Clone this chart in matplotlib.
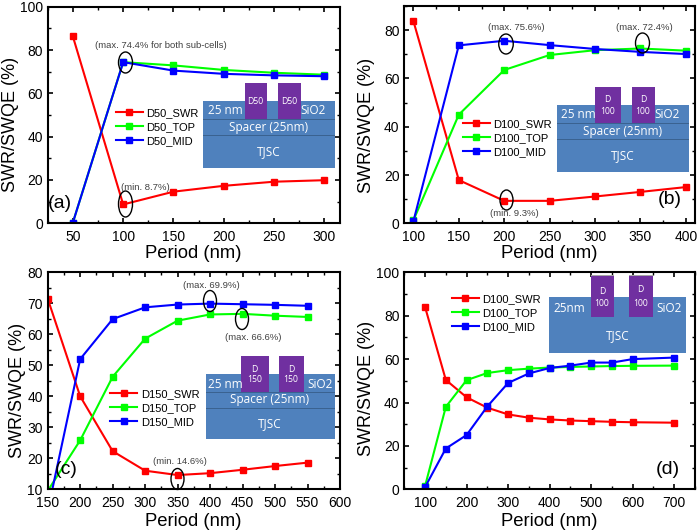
import matplotlib
matplotlib.use('Agg')
import matplotlib.pyplot as plt
from matplotlib.patches import Rectangle, Ellipse
from matplotlib.ticker import MultipleLocator

plt.rcParams['font.family'] = ['Liberation Sans', 'DejaVu Sans']

W, H = 700, 531
RED, GREEN, BLUE = '#ff0000', '#00ff00', '#0000ff'
CELL = '#4f81bd'
PILLAR = '#7030a0'

# panel a
period_a = [50, 100, 150, 200, 250, 300]
swr_a = [86.3, 8.7, 14.6, 17.3, 19.2, 19.9]
top_a = [0.3, 74.4, 72.9, 70.8, 69.5, 68.6]
mid_a = [0.3, 74.4, 70.5, 69.0, 68.3, 67.9]

# panel b
period_b = [100, 150, 200, 250, 300, 350, 400]
swr_b = [83.8, 17.9, 9.3, 9.3, 11.1, 13.0, 15.0]
top_b = [1.2, 45.0, 63.5, 69.7, 71.7, 72.4, 71.5]
mid_b = [0.8, 73.7, 75.6, 73.8, 72.2, 71.0, 70.1]

# panel c
period_c = [150, 200, 250, 300, 350, 400, 450, 500, 550]
swr_c = [71.5, 40.0, 22.3, 16.0, 14.6, 15.2, 16.3, 17.5, 18.6]
top_c = [9.5, 25.8, 46.3, 58.6, 64.4, 66.4, 66.6, 66.0, 65.6]
mid_c = [3.0, 52.0, 64.9, 68.7, 69.6, 69.9, 69.7, 69.5, 69.2]

# panel d
period_d = [100, 150, 200, 250, 300, 350, 400, 450, 500, 550, 600, 700]
swr_d = [84.0, 50.4, 42.4, 37.6, 34.5, 33.0, 32.2, 31.7, 31.4, 31.1, 30.9, 30.7]
top_d = [1.5, 38.0, 50.3, 53.6, 54.9, 55.6, 56.1, 56.4, 56.6, 56.8, 56.9, 57.0]
mid_d = [1.0, 18.8, 25.0, 38.2, 49.0, 53.4, 55.9, 57.0, 58.4, 58.4, 60.0, 60.7]

fig = plt.figure(figsize=(7, 5.31), dpi=100)


# everything decorative is placed in pixels of the 700x531 image
def fx(x):
    return x / W


def fy(y):
    return 1 - y / H


def new_axes(left, top, right, bottom):
    return fig.add_axes([fx(left), fy(bottom), (right - left) / W, (bottom - top) / H])


def box(x0, y0, x1, y1, color, zorder=5, ec='none'):
    fig.add_artist(Rectangle((fx(x0), fy(y1)), (x1 - x0) / W, (y1 - y0) / H,
                             transform=fig.transFigure, fc=color, ec=ec, lw=0.6, zorder=zorder))


def label(x, y, s, size=8.0, color='white', family='Open Sans', zorder=7, ha='center'):
    fig.text(fx(x), fy(y), s, fontsize=size, color=color, ha=ha, va='center',
             family=[family, 'DejaVu Sans'], zorder=zorder)


def note(x, y, s):
    label(x, y, s, size=6.8, color='#404040', family='Liberation Sans')


def ring(x, y, w, h):
    fig.add_artist(Ellipse((fx(x), fy(y)), w / W, h / H, transform=fig.transFigure,
                           fc='none', ec='black', lw=1.0, zorder=8))


def panel(ax, period, swr, top, mid, names, xlim, ylim, xstep, ystep, leg_xy, xlab_xy, ylab_xy):
    handles = []
    for vals, col, name in [(swr, RED, names[0]), (top, GREEN, names[1]), (mid, BLUE, names[2])]:
        line, = ax.plot(period, vals, color=col, lw=1.5, marker='s', ms=4, label=name)
        handles.append(line)
    ax.set_xlim(*xlim)
    ax.set_ylim(*ylim)
    ax.xaxis.set_major_locator(MultipleLocator(xstep))
    ax.xaxis.set_minor_locator(MultipleLocator(xstep / 2))
    ax.yaxis.set_major_locator(MultipleLocator(ystep))
    ax.yaxis.set_minor_locator(MultipleLocator(ystep / 2))
    ax.tick_params(which='major', direction='in', length=3.5, width=1.2, labelsize=10,
                   top=True, right=True)
    ax.tick_params(which='minor', direction='in', length=2.5, width=1.0, top=True, right=True)
    ax.tick_params(axis='x', which='major', pad=5)
    for sp in ax.spines.values():
        sp.set_linewidth(1.5)
    ax.set_xlabel('Period (nm)', fontsize=13.3, va='center')
    ax.set_ylabel('SWR/SWQE (%)', fontsize=13, va='center')
    ax.xaxis.set_label_coords(fx(xlab_xy[0]), fy(xlab_xy[1]), transform=fig.transFigure)
    ax.yaxis.set_label_coords(fx(ylab_xy[0]), fy(ylab_xy[1]), transform=fig.transFigure)
    ax.legend(handles=handles, loc='center', frameon=False, fontsize=8, borderpad=0, borderaxespad=0,
              bbox_to_anchor=(fx(leg_xy[0]), fy(leg_xy[1])), bbox_transform=fig.transFigure,
              labelspacing=0.35, handlelength=2.4, handletextpad=0.35)


# (a)
ax = new_axes(47.7, 6.7, 339.5, 223.3)
panel(ax, period_a, swr_a, top_a, mid_a, ['D50_SWR', 'D50_TOP', 'D50_MID'],
      (25, 315), (0, 100), 50, 20, (157.5, 127), (193, 254), (11, 124))
box(203, 101, 335, 168, CELL)
box(203, 119, 335, 119.6, '#3a6290', 6)
box(203, 135, 335, 135.6, '#3a6290', 6)
box(244.5, 83, 267, 119, PILLAR, 6)
box(278, 83, 301, 119, PILLAR, 6)
label(225, 111, '25 nm', 8.5)
label(313, 111, 'SiO2', 8.5)
label(269, 128, 'Spacer (25nm)', 8.5)
label(269, 152, 'TJSC', 8.5)
label(255.5, 102, 'D50', 6.2)
label(289.5, 102, 'D50', 6.2)
note(161, 46, '(max. 74.4% for both sub-cells)')
note(145, 187, '(min. 8.7%)')
ring(125.5, 62.5, 14, 21)
ring(125.5, 204, 14, 26)
label(60, 204, '(a)', 14, 'black', 'Liberation Sans')

# (b)
ax = new_axes(404.3, 6, 695, 223.3)
panel(ax, period_b, swr_b, top_b, mid_b, ['D100_SWR', 'D100_TOP', 'D100_MID'],
      (90, 410), (0, 90), 50, 20, (507.5, 138), (549, 254), (366, 125))
box(557, 105, 689, 172, CELL)
box(557, 123, 689, 123.6, '#3a6290', 6)
box(557, 139, 689, 139.6, '#3a6290', 6)
box(595, 87, 621, 123, PILLAR, 6)
box(631.5, 87, 655, 123, PILLAR, 6)
label(578, 115, '25 nm', 8.5)
label(667, 115, 'SiO2', 8.5)
label(623, 132, 'Spacer (25nm)', 8.5)
label(623, 156, 'TJSC', 8.5)
label(607.5, 100, 'D', 6.2)
label(607.5, 111, '100', 6.2)
label(643, 100, 'D', 6.2)
label(643, 111, '100', 6.2)
note(516, 27, '(max. 75.6%)')
note(644.5, 27, '(max. 72.4%)')
note(514, 214, '(min. 9.3%)')
ring(506, 44, 14.5, 20)
ring(642.5, 43, 14, 20)
ring(506.5, 200, 13, 20)
label(670, 199, '(b)', 14, 'black', 'Liberation Sans')

# (c)
ax = new_axes(47.7, 272.3, 340, 489.3)
panel(ax, period_c, swr_c, top_c, mid_c, ['D150_SWR', 'D150_TOP', 'D150_MID'],
      (150, 600), (10, 80), 50, 10, (155, 408), (193, 522), (18, 390))
box(206, 374, 335, 439, CELL)
box(206, 392, 335, 392.6, '#3a6290', 6)
box(206, 408, 335, 408.6, '#3a6290', 6)
box(240.5, 356, 268.5, 392, PILLAR, 6)
box(278.5, 356, 303.5, 392, PILLAR, 6)
label(225, 384, '25 nm', 8.5)
label(320, 384, 'SiO2', 8.5)
label(270, 400, 'Spacer (25nm)', 8.5)
label(270, 424, 'TJSC', 8.5)
label(254.5, 369, 'D', 6.2)
label(254.5, 380, '150', 6.2)
label(291, 369, 'D', 6.2)
label(291, 380, '150', 6.2)
note(211, 285.5, '(max. 69.9%)')
note(253, 337, '(max. 66.6%)')
note(180, 462, '(min. 14.6%)')
ring(210, 301, 13, 21)
ring(242, 319, 13, 21)
ring(177.5, 479, 13, 21)
label(66, 470, '(c)', 14, 'black', 'Liberation Sans')

# (d)
ax = new_axes(404.3, 272.3, 695, 489.3)
panel(ax, period_d, swr_d, top_d, mid_d, ['D100_SWR', 'D100_TOP', 'D100_MID'],
      (50, 750), (0, 100), 100, 20, (496.5, 313), (549, 522), (366, 388))
box(549, 296.5, 686, 353, CELL)
box(590.5, 275, 614, 316.5, PILLAR, 6)
box(629, 275, 652.5, 316.5, PILLAR, 6)
box(590.5, 275, 614, 276, '#a6a6a6', 7)
box(629, 275, 652.5, 276, '#a6a6a6', 7)
label(569, 308, '25nm', 8.5)
label(669, 308, 'SiO2', 8.5)
label(618, 336, 'TJSC', 8.5)
label(602, 291, 'D', 6.2)
label(602, 303, '100', 6.2)
label(640.5, 290, 'D', 6.2)
label(640.5, 303, '100', 6.2)
label(668, 469, '(d)', 14, 'black', 'Liberation Sans')

fig.savefig('out.png', dpi=100, facecolor='white')
